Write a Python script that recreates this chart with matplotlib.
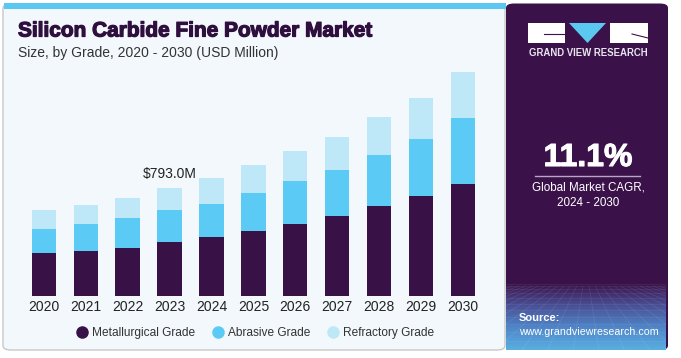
import matplotlib
matplotlib.use("Agg")
import matplotlib.pyplot as plt
import numpy as np
from matplotlib.patches import FancyBboxPatch, Rectangle, Polygon
from matplotlib.colors import LinearSegmentedColormap
from matplotlib.lines import Line2D
import matplotlib.patheffects as pe

years = ["2020", "2021", "2022", "2023", "2024", "2025", "2026", "2027", "2028", "2029", "2030"]
metallurgical = [314, 329, 356, 396, 437, 476, 528, 592, 660, 736, 828]
abrasive = [182, 199, 221, 236, 243, 285, 317, 339, 381, 423, 479]
refractory = [135, 145, 147, 161, 189, 203, 223, 240, 275, 299, 339]
series_names = ["Metallurgical Grade", "Abrasive Grade", "Refractory Grade"]
annot_year = "2023"
annot_text = "$793.0M"

C_MET = "#381147"
C_ABR = "#5bcbf5"
C_REF = "#bee8f8"
C_PANEL = "#3a1249"
C_BG = "#f3f8fc"

W, H = 681, 358
fig = plt.figure(figsize=(W / 100, H / 100), dpi=100)
fig.patch.set_facecolor("white")

def fx(px):
    return px / W

def fy(py):
    return 1 - py / H

# Left panel
left_panel = FancyBboxPatch((fx(3), fy(350)), fx(505) - fx(3), fy(4) - fy(350),
                            boxstyle="round,pad=0,rounding_size=0.012",
                            transform=fig.transFigure, facecolor=C_BG,
                            edgecolor="#c8c8c8", linewidth=1.0, zorder=0)
fig.patches.append(left_panel)
fig.patches.append(Rectangle((fx(4), fy(9)), fx(506) - fx(4), fy(3.5) - fy(9),
                             transform=fig.transFigure, facecolor="#5bc8f2",
                             edgecolor="none", zorder=1))

# Right panel
right_panel = FancyBboxPatch((fx(506), fy(350)), fx(668) - fx(506), fy(3.5) - fy(350),
                             boxstyle="round,pad=0,rounding_size=0.012",
                             transform=fig.transFigure, facecolor=C_PANEL,
                             edgecolor="none", zorder=1)
fig.patches.append(right_panel)

# gradient at bottom of right panel
gax = fig.add_axes([fx(506), fy(350), fx(666) - fx(506), fy(283) - fy(350)], zorder=2)
grad = np.linspace(0, 1, 100).reshape(-1, 1)
cmap = LinearSegmentedColormap.from_list("g", [C_PANEL, "#4a4f95", "#4f86c8", "#5aaee0"])
gax.imshow(grad, aspect="auto", cmap=cmap, extent=[0, 1, 1, 0], origin="upper")
for k in np.linspace(-1.5, 2.5, 26):
    gax.plot([0.5 + (k - 0.5) * 0.25, k], [0.05, 1], color="white", alpha=0.10, lw=0.5)
for yy in np.linspace(0.05, 1, 12) ** 1.6:
    gax.plot([0, 1], [yy, yy], color="white", alpha=0.08, lw=0.5)
gax.set_xlim(0, 1)
gax.set_ylim(1, 0)
gax.axis("off")

# Chart axes
ax_l, ax_r, ax_b, ax_t = 20, 487, 296, 60
ax = fig.add_axes([fx(ax_l), fy(ax_b), fx(ax_r) - fx(ax_l), fy(ax_t) - fy(ax_b)], zorder=3)
ax.set_facecolor("none")
x = np.arange(len(years))
bw = 0.58
met = np.array(metallurgical)
abr = np.array(abrasive)
ref = np.array(refractory)
ax.bar(x, met, bw, color=C_MET)
ax.bar(x, abr, bw, bottom=met, color=C_ABR)
ax.bar(x, ref, bw, bottom=met + abr, color=C_REF)
ax.set_xlim(-0.568, 10.572)
ax.set_ylim(0, 236 * 7.363)
ax.set_xticks(x)
ax.set_xticklabels(years, fontsize=10, color="#222222", family="Liberation Sans")
ax.tick_params(axis="x", length=0, pad=3)
ax.set_yticks([])
for s in ax.spines.values():
    s.set_visible(False)

i = years.index(annot_year)
tot = met[i] + abr[i] + ref[i]
ax.annotate(annot_text, (x[i], tot), xytext=(0, 5), textcoords="offset points",
            ha="center", va="bottom", fontsize=10, color="#222222", family="Liberation Sans")

# Legend
handles = [Line2D([0], [0], marker="o", ls="none", markersize=8, markerfacecolor=c, markeredgecolor=c)
           for c in [C_MET, C_ABR, C_REF]]
ax.legend(handles, series_names, loc="upper center", bbox_to_anchor=(0.505, -0.085), ncol=3,
          frameon=False, handlelength=0.8, columnspacing=1.5, handletextpad=0.45,
          prop={"family": "Liberation Sans", "size": 8.6}, labelcolor="#333333")

# Titles
fig.text(fx(18), fy(31), "Silicon Carbide Fine Powder Market", fontsize=15.0, fontweight="bold",
         color="#2e0f3e", family="Liberation Sans", va="center", ha="left",
         path_effects=[pe.withStroke(linewidth=0.9, foreground="#2e0f3e")])
fig.text(fx(18), fy(52.5), "Size, by Grade, 2020 - 2030 (USD Million)", fontsize=10,
         color="#333333", family="Liberation Sans", va="center", ha="left")

# Logo
lg = "white"
fig.patches.append(Rectangle((fx(528), fy(43)), fx(565) - fx(528), fy(23) - fy(43),
                             transform=fig.transFigure, facecolor=lg, edgecolor="none", zorder=4))
fig.patches.append(Rectangle((fx(610), fy(43)), fx(648) - fx(610), fy(23) - fy(43),
                             transform=fig.transFigure, facecolor=lg, edgecolor="none", zorder=4))
fig.patches.append(Polygon([(fx(569), fy(23)), (fx(606), fy(23)), (fx(587.5), fy(43))],
                           transform=fig.transFigure, facecolor="#5bc8f2", edgecolor="none", zorder=4))
fig.lines.append(Line2D([fx(544), fx(565)], [fy(34), fy(34)], transform=fig.transFigure,
                        color=C_PANEL, lw=0.8, zorder=5))
fig.lines.append(Line2D([fx(632), fx(648)], [fy(34), fy(38)], transform=fig.transFigure,
                        color=C_PANEL, lw=0.8, zorder=5))
fig.text(fx(588), fy(53.5), "GRAND VIEW RESEARCH", fontsize=6.9, fontweight="bold",
         color="#e8e4ee", family="Liberation Sans", ha="center", va="center", zorder=5)

fig.text(fx(588), fy(158), "11.1%", fontsize=23, fontweight="bold", color="white",
         family="Liberation Sans", ha="center", va="center", zorder=5,
         path_effects=[pe.withStroke(linewidth=0.8, foreground="white")])
fig.lines.append(Line2D([fx(535), fx(640)], [fy(176), fy(176)], transform=fig.transFigure,
                        color="#b9a6c6", lw=1.0, zorder=5))
fig.text(fx(588), fy(188), "Global Market CAGR,", fontsize=8.4, color="white",
         family="Liberation Sans", ha="center", va="center", zorder=5)
fig.text(fx(588), fy(203), "2024 - 2030", fontsize=8.4, color="white",
         family="Liberation Sans", ha="center", va="center", zorder=5)
fig.text(fx(519), fy(318), "Source:", fontsize=8, fontweight="bold", color="white",
         family="Liberation Sans", ha="left", va="center", zorder=5)
fig.text(fx(519), fy(332), "www.grandviewresearch.com", fontsize=7.7, color="white",
         family="Liberation Sans", ha="left", va="center", zorder=5)

fig.savefig("out.png", dpi=100, facecolor="white")
